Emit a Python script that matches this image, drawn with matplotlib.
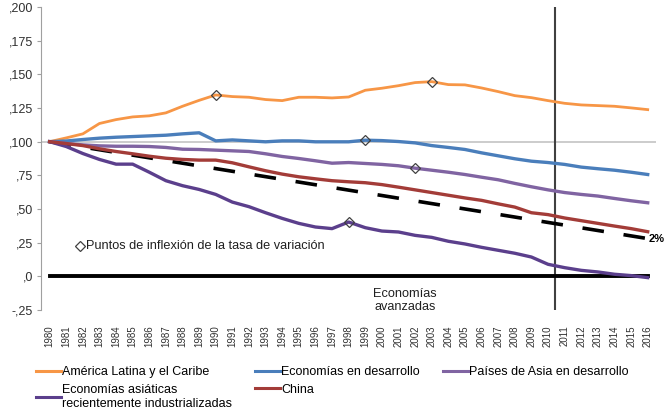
import matplotlib as mpl
mpl.use('Agg')
import matplotlib.pyplot as plt
from matplotlib.lines import Line2D

plt.rcParams['font.family'] = ['Liberation Sans', 'DejaVu Sans']

years = list(range(1980, 2017))

america_latina = [100, 102.8, 105.8, 113.5, 116.4, 118.4, 119.2, 121.4, 126.3, 130.7,
                  134.7, 133.5, 133.0, 131.3, 130.5, 133.0, 133.0, 132.5, 133.2, 138.2,
                  139.7, 141.6, 143.9, 144.6, 142.4, 142.2, 139.9, 137.2, 134.2, 132.7,
                  130.5, 128.5, 127.3, 126.8, 126.3, 125.1, 123.8]
econ_desarrollo = [100, 100.5, 101.6, 102.6, 103.3, 103.8, 104.3, 104.8, 105.8, 106.6,
                   100.6, 101.3, 100.6, 99.9, 100.6, 100.6, 99.9, 99.9, 99.9, 101.1,
                   100.8, 100.1, 99.1, 97.1, 95.7, 94.2, 91.7, 89.5, 87.3, 85.5,
                   84.5, 83.1, 81.1, 79.9, 78.8, 77.3, 75.6]
asia_desarrollo = [100, 98.6, 97.6, 96.9, 96.6, 96.6, 96.4, 95.7, 94.4, 94.2,
                   93.7, 93.2, 92.7, 91.0, 89.0, 87.5, 85.8, 84.0, 84.5, 83.8,
                   83.1, 82.1, 80.3, 78.8, 77.3, 75.6, 73.6, 71.7, 69.0, 66.5,
                   64.2, 62.2, 60.8, 59.6, 57.8, 56.1, 54.6]
asiaticas_nie = [100, 96.4, 91.2, 86.8, 83.3, 83.3, 77.3, 71.0, 67.3, 64.5,
                 60.8, 55.1, 51.7, 47.2, 43.0, 39.3, 36.6, 35.4, 40.3, 36.1,
                 33.6, 32.9, 30.4, 28.9, 26.0, 24.0, 21.5, 19.3, 17.1, 14.3,
                 8.9, 6.4, 4.4, 3.2, 1.5, 0.5, -1.0]
china = [100, 98.6, 97.1, 94.7, 92.7, 91.0, 89.2, 87.7, 86.8, 86.3,
         86.3, 84.3, 81.3, 78.4, 75.9, 73.9, 72.4, 71.0, 70.2, 69.5,
         68.1, 66.2, 64.2, 62.2, 60.2, 58.2, 56.4, 53.8, 51.4, 47.2,
         45.8, 43.3, 41.3, 39.3, 37.3, 35.4, 33.1]
avanzadas = [0] * len(years)

# reference line: -2 points per year
ref_years = [1980, 2016]
ref_values = [100, 28]

# turning points of the growth rate
turn_years = [1990, 2003, 1999, 2002, 1998]
turn_values = [america_latina[10], america_latina[23], econ_desarrollo[19],
               asia_desarrollo[22], asiaticas_nie[18]]

yticks = [-25, 0, 25, 50, 75, 100, 125, 150, 175, 200]
ylabels = ['-,25', ',0', ',25', ',50', ',75', ',100', ',125', ',150', ',175', ',200']

c_orange = '#F79646'
c_blue = '#4A7EBB'
c_purple = '#8064A2'
c_dpurple = '#5B3F8C'
c_red = '#A33C38'

fig = plt.figure(figsize=(6.66, 4.16), dpi=100)
ax = fig.add_axes([0.062, 0.255, 0.923, 0.728])

ax.axhline(100, color='#C8C8C8', lw=1.3, zorder=1)
ax.axvline(2010.4, color='#404040', lw=1.5, zorder=1)

ax.plot(ref_years, ref_values, color='black', lw=2.6, dashes=(6, 5.5), zorder=2)
ax.plot(years, avanzadas, color='black', lw=2.8, zorder=2)
ax.plot(years, america_latina, color=c_orange, lw=2.0, zorder=3)
ax.plot(years, econ_desarrollo, color=c_blue, lw=2.4, zorder=3)
ax.plot(years, asia_desarrollo, color=c_purple, lw=2.4, zorder=3)
ax.plot(years, asiaticas_nie, color=c_dpurple, lw=2.4, zorder=3)
ax.plot(years, china, color=c_red, lw=2.4, zorder=3)
ax.plot(turn_years, turn_values, linestyle='none', marker='D', ms=5.5,
        mfc='none', mec='#404040', mew=0.9, zorder=4)

ax.plot([1981.8], [22.5], linestyle='none', marker='D', ms=5, mfc='none',
        mec='#404040', mew=0.9, clip_on=False)
ax.text(1982.2, 22.5, 'Puntos de inflexión de la tasa de variación',
        fontsize=9.2, va='center', ha='left', color='#202020')
ax.text(2001.4, -18, 'Economías\navanzadas', fontsize=9.2, ha='center',
        va='center', color='#202020', linespacing=1.2)
ax.text(2016.05, 28, '2%', fontsize=8, fontweight='bold', ha='left', va='center')

ax.set_xlim(1979.5, 2016.5)
ax.set_ylim(-25, 200)
ax.set_xticks(years)
ax.set_xticklabels([str(y) for y in years], rotation=90, fontsize=7, color='#303030')
ax.tick_params(axis='x', length=0, pad=11)
ax.set_yticks(yticks)
ax.set_yticklabels(ylabels, fontsize=9, color='#303030')
ax.tick_params(axis='y', length=3, color='#A0A0A0', width=0.8, pad=3)

for s in ['top', 'right', 'bottom']:
    ax.spines[s].set_visible(False)
ax.spines['left'].set_color('#A0A0A0')
ax.spines['left'].set_linewidth(0.8)

handles = [Line2D([], [], color=c_orange, lw=2.2),
           Line2D([], [], color=c_dpurple, lw=2.2),
           Line2D([], [], color=c_blue, lw=2.2),
           Line2D([], [], color=c_red, lw=2.2),
           Line2D([], [], color=c_purple, lw=2.2)]
labels = ['América Latina y el Caribe',
          'Economías asiáticas\nrecientemente industrializadas',
          'Economías en desarrollo', 'China',
          'Países de Asia en desarrollo']
leg = fig.legend(handles, labels, ncol=3, loc='upper left', bbox_to_anchor=(0.054, 0.12),
                 frameon=False, handlelength=2.0, handletextpad=0.05,
                 columnspacing=1.9, labelspacing=0.45, borderpad=0, borderaxespad=0,
                 prop={'size': 9})
for t in leg.get_texts():
    t.set_linespacing(1.3)

fig.savefig('out.png', dpi=100)
